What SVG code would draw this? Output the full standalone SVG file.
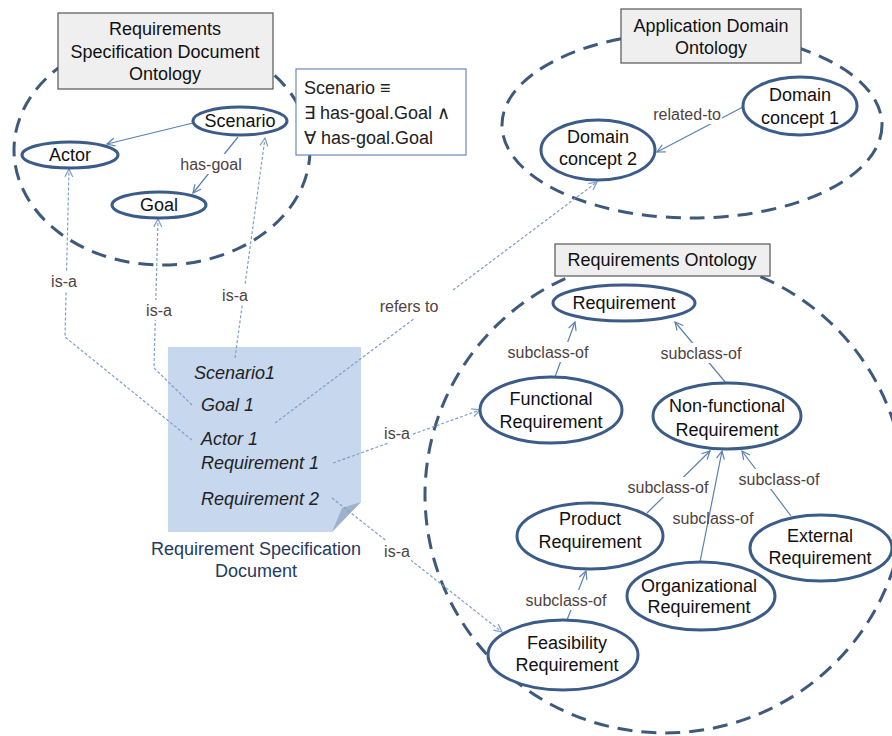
<svg xmlns="http://www.w3.org/2000/svg" width="892" height="736" viewBox="0 0 892 736">
<defs>
<style>
.onto{fill:none;stroke:#3d5a7d;stroke-width:3;stroke-dasharray:15 9}
.hdr{fill:#efefef;stroke:#555;stroke-width:1.2}
.node{fill:#fff;stroke:#3b5b88;stroke-width:3}
.t{font-family:"Liberation Sans",Arial,sans-serif;font-size:18px;fill:#111;text-anchor:middle}
.it{font-family:"Liberation Sans",Arial,sans-serif;font-size:18px;fill:#222;font-style:italic}
.lbl{font-family:"Liberation Sans",Arial,sans-serif;font-size:16px;fill:#4f4242;text-anchor:middle}
.def{font-family:"Liberation Sans",Arial,sans-serif;font-size:18px;fill:#222}
.bg{fill:#fff}
.solid{fill:none;stroke:#5b80b0;stroke-width:1.2}
.dash{fill:none;stroke:#7f9fc9;stroke-width:1.2;stroke-dasharray:3 2}
</style>
<marker id="as" markerWidth="10" markerHeight="10" refX="9" refY="5" orient="auto" markerUnits="userSpaceOnUse"><path d="M1,1 L9,5 L1,9" fill="none" stroke="#5b80b0" stroke-width="1.2"/></marker>
<marker id="ad" markerWidth="10" markerHeight="10" refX="9" refY="5" orient="auto" markerUnits="userSpaceOnUse"><path d="M1,1 L9,5 L1,9" fill="none" stroke="#7f9fc9" stroke-width="1.2"/></marker>
</defs>
<rect width="892" height="736" fill="#fff"/>

<g id="ontologies">
<ellipse class="onto" cx="162" cy="150" rx="148" ry="115"/>
<ellipse class="onto" cx="692" cy="125" rx="190" ry="93"/>
<ellipse class="onto" cx="665" cy="495" rx="240" ry="238"/>
</g>

<g id="document">
<polygon points="168,347 361,347 361,502 332,532 168,532" fill="#c6d7ee"/>
<polygon points="332,532 361,502 342,508" fill="#9fb2cc"/>
<text class="it" x="194" y="379">Scenario1</text>
<text class="it" x="201" y="411">Goal 1</text>
<text class="it" x="201" y="445">Actor 1</text>
<text class="it" x="201" y="469">Requirement 1</text>
<text class="it" x="201" y="505">Requirement 2</text>
<text class="t" x="256" y="555" style="fill:#243a5e">Requirement Specification</text>
<text class="t" x="256" y="577" style="fill:#243a5e">Document</text>
</g>

<g id="connectors">
<path class="solid" d="M193,123 L107,144" marker-end="url(#as)"/>
<path class="solid" d="M238,137 L193,193" marker-end="url(#as)"/>
<path class="solid" d="M743,107 L657,152" marker-end="url(#as)"/>
<path class="solid" d="M555,377 L575,322" marker-end="url(#as)"/>
<path class="solid" d="M726,383 L675,322" marker-end="url(#as)"/>
<path class="solid" d="M647,513 L710,451" marker-end="url(#as)"/>
<path class="solid" d="M700,562 L722,451" marker-end="url(#as)"/>
<path class="solid" d="M791,516 L742,451" marker-end="url(#as)"/>
<path class="solid" d="M567,620 L586,571" marker-end="url(#as)"/>
<path class="dash" d="M192,440 L65,337 L69,169" marker-end="url(#ad)"/>
<path class="dash" d="M192,405 L154,368 L158,219" marker-end="url(#ad)"/>
<path class="dash" d="M235,358 L265,138" marker-end="url(#ad)"/>
<path class="dash" d="M333,463 L480,410" marker-end="url(#ad)"/>
<path class="dash" d="M332,498 L502,632" marker-end="url(#ad)"/>
<path class="dash" d="M275,423 L415,318"/>
<path class="dash" d="M453,290 L597,182" marker-end="url(#ad)"/>
</g>

<g id="labels">
<rect class="bg" x="178" y="154" width="66" height="20"/><text class="lbl" x="211" y="170">has-goal</text>
<rect class="bg" x="652" y="104" width="70" height="20"/><text class="lbl" x="687" y="120">related-to</text>
<rect class="bg" x="507" y="342" width="82" height="20"/><text class="lbl" x="548" y="358">subclass-of</text>
<rect class="bg" x="660" y="343" width="82" height="20"/><text class="lbl" x="701" y="359">subclass-of</text>
<rect class="bg" x="627" y="477" width="82" height="20"/><text class="lbl" x="668" y="493">subclass-of</text>
<text class="lbl" x="713" y="524">subclass-of</text>
<rect class="bg" x="738" y="469" width="82" height="20"/><text class="lbl" x="779" y="485">subclass-of</text>
<rect class="bg" x="525" y="590" width="82" height="20"/><text class="lbl" x="566" y="606">subclass-of</text>
<rect class="bg" x="50" y="271" width="28" height="20"/><text class="lbl" x="64" y="287">is-a</text>
<rect class="bg" x="145" y="300" width="28" height="20"/><text class="lbl" x="159" y="316">is-a</text>
<rect class="bg" x="221" y="285" width="28" height="20"/><text class="lbl" x="235" y="301">is-a</text>
<rect class="bg" x="383" y="423" width="28" height="20"/><text class="lbl" x="397" y="439">is-a</text>
<rect class="bg" x="383" y="541" width="28" height="20"/><text class="lbl" x="397" y="557">is-a</text>
<text class="lbl" x="409" y="312">refers to</text>
</g>

<g id="n-scenario"><ellipse class="node" cx="240" cy="121" rx="47" ry="14"/><text class="t" x="240" y="127">Scenario</text></g>
<g id="n-actor"><ellipse class="node" cx="70" cy="155" rx="48" ry="13"/><text class="t" x="70" y="161">Actor</text></g>
<g id="n-goal"><ellipse class="node" cx="159" cy="205" rx="47" ry="13"/><text class="t" x="159" y="211">Goal</text></g>
<g id="n-dc1"><ellipse class="node" cx="800" cy="106" rx="57" ry="29"/><text class="t" x="800" y="101">Domain</text><text class="t" x="800" y="124">concept 1</text></g>
<g id="n-dc2"><ellipse class="node" cx="598" cy="150" rx="57" ry="30"/><text class="t" x="598" y="143">Domain</text><text class="t" x="598" y="165">concept 2</text></g>
<g id="n-req"><ellipse class="node" cx="624" cy="303" rx="71" ry="18"/><text class="t" x="624" y="309">Requirement</text></g>
<g id="n-func"><ellipse class="node" cx="551" cy="410" rx="71" ry="33"/><text class="t" x="551" y="405">Functional</text><text class="t" x="551" y="428">Requirement</text></g>
<g id="n-nonfunc"><ellipse class="node" cx="727" cy="416" rx="74" ry="33"/><text class="t" x="727" y="412">Non-functional</text><text class="t" x="727" y="436">Requirement</text></g>
<g id="n-product"><ellipse class="node" cx="590" cy="536" rx="73" ry="33"/><text class="t" x="590" y="525">Product</text><text class="t" x="590" y="548">Requirement</text></g>
<g id="n-org"><ellipse class="node" cx="701" cy="596" rx="74" ry="34"/><text class="t" x="699" y="592">Organizational</text><text class="t" x="699" y="613">Requirement</text></g>
<g id="n-ext"><ellipse class="node" cx="821" cy="548" rx="71" ry="33"/><text class="t" x="820" y="542">External</text><text class="t" x="820" y="564">Requirement</text></g>
<g id="n-feas"><ellipse class="node" cx="563" cy="655" rx="75" ry="35"/><text class="t" x="567" y="649">Feasibility</text><text class="t" x="567" y="671">Requirement</text></g>

<g id="h-rsdo"><rect class="hdr" x="58" y="13" width="215" height="76"/><text class="t" x="165" y="35">Requirements</text><text class="t" x="165" y="58">Specification Document</text><text class="t" x="165" y="80">Ontology</text></g>
<g id="h-ado"><rect class="hdr" x="621" y="9" width="180" height="54"/><text class="t" x="711" y="32">Application Domain</text><text class="t" x="711" y="54">Ontology</text></g>
<g id="h-ro"><rect class="hdr" x="555" y="244" width="215" height="32"/><text class="t" x="662" y="266">Requirements Ontology</text></g>

<g id="definition">
<rect x="296" y="69" width="170" height="86" fill="#fff" stroke="#6a8db5" stroke-width="1.2"/>
<text class="def" x="304" y="94">Scenario ≡</text>
<text class="def" x="304" y="119">∃ has-goal.Goal ∧</text>
<text class="def" x="304" y="144">∀ has-goal.Goal</text>
</g>
</svg>
